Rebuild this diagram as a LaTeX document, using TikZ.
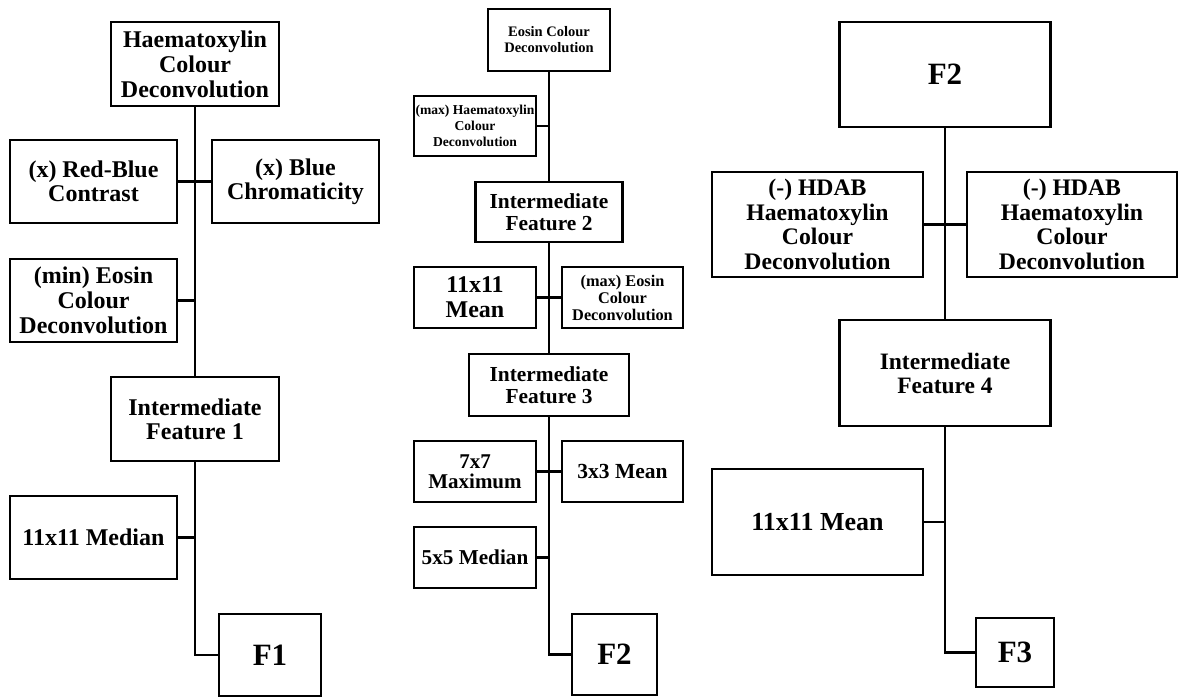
\documentclass[tikz,border=0pt]{standalone}
\usepackage{fontspec}
\setmainfont{Liberation Serif}
\newcommand\myfs[2]{\fontsize{#1}{#2}\selectfont\bfseries}
\tikzset{
  box/.style={draw, line width=2.5pt, inner sep=0pt, align=center, fill=white},
  conn/.style={line width=2.5pt},
}
\begin{document}
\begin{tikzpicture}[x=1pt,y=-1pt]
\useasboundingbox (0,0) rectangle (1184,698);
% ---------- Panel 1 ----------
\node[box, minimum width=168, minimum height=84, font=\myfs{24}{25}] (h1) at (195,64) {Haematoxylin\\Colour\\Deconvolution};
\node[box, minimum width=167, minimum height=83, font=\myfs{24}{24}] (rb) at (93.5,181.5) {(x) Red-Blue\\Contrast};
\node[box, minimum width=167, minimum height=83, font=\myfs{24}{24}] (bc) at (295.5,181.5) {(x) Blue\\Chromaticity};
\node[box, minimum width=167, minimum height=83, font=\myfs{24}{25}] (me) at (93.5,300.5) {(min) Eosin\\Colour\\Deconvolution};
\node[box, minimum width=168, minimum height=84, font=\myfs{24}{24}] (if1) at (195,419) {Intermediate\\Feature 1};
\node[box, minimum width=167, minimum height=83, font=\myfs{24}{24}] (med) at (93.5,537.5) {11x11 Median};
\node[box, minimum width=102, minimum height=82, font=\myfs{31}{31}] (f1) at (270,655) {F1};
\draw[conn] (h1.south) -- (if1.north);
\draw[conn] (rb.east) -- (bc.west);
\draw[conn] (me.east) -- (me.east -| h1.south);
\draw[conn] (med.east) -- (med.east -| if1.south);
\draw[conn] (if1.south) |- (f1.west);
% ---------- Panel 2 ----------
\node[box, minimum width=122, minimum height=62, font=\myfs{14.5}{16}] (e) at (549,40) {Eosin Colour\\Deconvolution};
\node[box, minimum width=122, minimum height=60, font=\myfs{13.6}{16}] (mh) at (475,126) {(max) Haematoxylin\\Colour\\Deconvolution};
\node[box, minimum width=147, minimum height=60, font=\myfs{21.4}{21.7}] (if2) at (549,212) {Intermediate\\Feature 2};
\node[box, minimum width=122, minimum height=61, font=\myfs{24}{25}] (m11) at (475,297.5) {11x11\\Mean};
\node[box, minimum width=121, minimum height=61, font=\myfs{16.3}{17}] (me2) at (622.5,297.5) {(max) Eosin\\Colour\\Deconvolution};
\node[box, minimum width=160, minimum height=62, font=\myfs{21.4}{21.7}] (if3) at (549,385) {Intermediate\\Feature 3};
\node[box, minimum width=122, minimum height=61, font=\myfs{21}{20}] (m7) at (475,471.5) {7x7\\Maximum};
\node[box, minimum width=121, minimum height=61, font=\myfs{21.5}{21.5}] (m3) at (622.5,471.5) {3x3 Mean};
\node[box, minimum width=122, minimum height=61, font=\myfs{21.2}{21.2}] (m5) at (475,557.5) {5x5 Median};
\node[box, minimum width=85, minimum height=81, font=\myfs{31}{31}] (f2) at (614.5,654.5) {F2};
\draw[conn] (e.south) -- (if2.north);
\draw[conn] (mh.east) -- (mh.east -| e.south);
\draw[conn] (if2.south) -- (if3.north);
\draw[conn] (m11.east) -- (me2.west);
\draw[conn] (m7.east) -- (m3.west);
\draw[conn] (m5.east) -- (m5.east -| if3.south);
\draw[conn] (if3.south) |- (f2.west);
% ---------- Panel 3 ----------
\node[box, minimum width=211, minimum height=105, font=\myfs{31}{31}] (f2b) at (945,74.5) {F2};
\node[box, minimum width=211, minimum height=105, font=\myfs{23.7}{24.5}] (hl) at (817.5,224.5) {(-) HDAB\\Haematoxylin\\Colour\\Deconvolution};
\node[box, minimum width=210, minimum height=105, font=\myfs{23.7}{24.5}] (hr) at (1072,224.5) {(-) HDAB\\Haematoxylin\\Colour\\Deconvolution};
\node[box, minimum width=211, minimum height=106, font=\myfs{23.5}{24}] (if4) at (945,373) {Intermediate\\Feature 4};
\node[box, minimum width=211, minimum height=106, font=\myfs{26}{26}] (m11b) at (817.5,522) {11x11 Mean};
\node[box, minimum width=78, minimum height=69, font=\myfs{31}{31}] (f3) at (1015,652.5) {F3};
\draw[conn] (f2b.south) -- (if4.north);
\draw[conn] (hl.east) -- (hr.west);
\draw[conn] (m11b.east) -- (m11b.east -| if4.south);
\draw[conn] (if4.south) |- (f3.west);
\end{tikzpicture}
\end{document}
